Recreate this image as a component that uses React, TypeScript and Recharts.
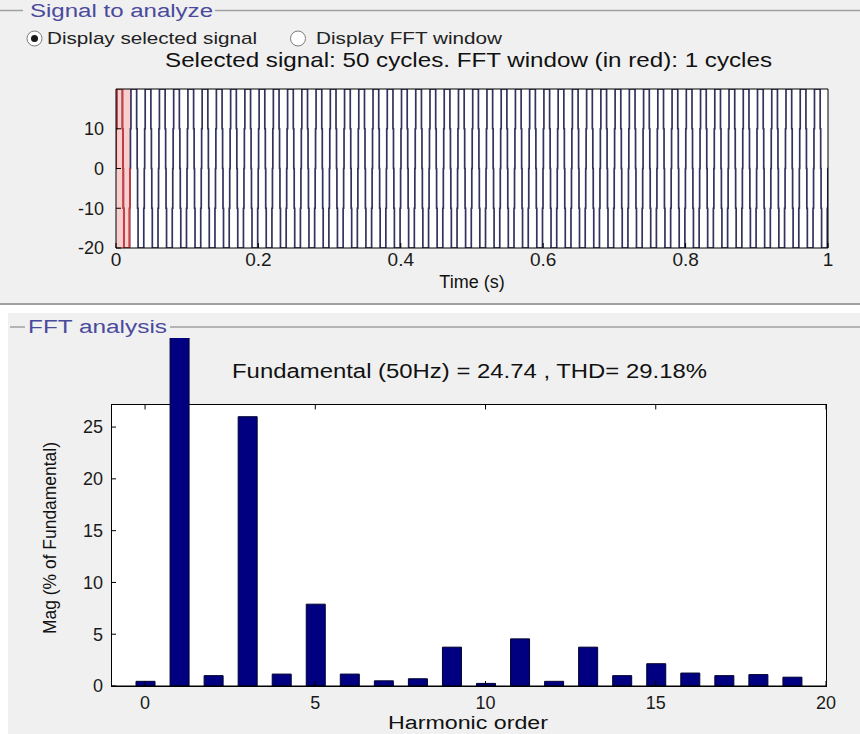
import React from "react";
import {
  LineChart,
  Line,
  XAxis,
  YAxis,
  ReferenceArea,
  ReferenceLine,
  BarChart,
  Bar,
} from "recharts";

const FONT = "'Liberation Sans', Arial, Helvetica, sans-serif";

// ---- Signal to analyze: one cycle of the 5-level staircase (switch angles in deg, levels) ----
const signalCycles = 50;
const signalDuration = 1;
const fftWindowCycles = 1;
const cyclePhaseDeg = [0, 5, 18, 162, 175, 185, 198, 342, 355];
const cycleLevel = [0, 10, 20, 10, 0, -10, -20, -10, 0];
const timeTicks = [0, 0.2, 0.4, 0.6, 0.8, 1];
const signalTicks = [-20, -10, 0, 10];
const signalDomain = [-20, 20];

// ---- FFT analysis ----
const harmonicOrder = [0, 1, 2, 3, 4, 5, 6, 7, 8, 9, 10, 11, 12, 13, 14, 15, 16, 17, 18, 19];
const harmonicMag = [
  0.45, 100, 1.0, 26.0, 1.15, 7.9, 1.15, 0.5, 0.7, 3.75, 0.25, 4.55, 0.45, 3.75, 1.0, 2.15,
  1.25, 1.0, 1.1, 0.85,
];
const harmonicTicks = [0, 5, 10, 15, 20];
const magTicks = [0, 5, 10, 15, 20, 25];
const magAxisTop = 27.2;
const magViewTop = 33.6;

const period = signalDuration / signalCycles;
const signalData: { t: number; v: number }[] = [];
for (let c = 0; c < signalCycles; c++) {
  cyclePhaseDeg.forEach((p, i) => {
    signalData.push({ t: (c + p / 360) * period, v: cycleLevel[i] });
  });
}
signalData.push({ t: signalDuration, v: 0 });
const windowEnd = fftWindowCycles * period;
const windowData = signalData.filter((d) => d.t <= windowEnd + 1e-9);

const harmData = harmonicOrder.map((h, i) => ({ h, mag: harmonicMag[i] }));

const axisStroke = { stroke: "#000", strokeWidth: 1 };

export default function App() {
  return (
    <div
      style={{
        position: "absolute",
        left: 0,
        top: 0,
        width: 860,
        height: 734,
        background: "#f0f0f0",
        overflow: "hidden",
        fontFamily: FONT,
      }}
    >
      {/* panel decorations behind */}
      <div style={{ position: "absolute", left: 0, top: 305, width: 860, height: 8, background: "#fff" }} />
      <div style={{ position: "absolute", left: 0, top: 305, width: 8, height: 429, background: "#fff" }} />
      <div style={{ position: "absolute", left: 116, top: 89, width: 712, height: 159, background: "#fff" }} />
      <div
        style={{
          position: "absolute",
          left: 111,
          top: 404,
          width: 716,
          height: 283,
          background: "#fff",
          border: "1px solid #000",
          boxSizing: "border-box",
        }}
      />

      {/* Top chart: signal */}
      <div style={{ position: "absolute", left: 0, top: 0 }}>
        <LineChart
          width={860}
          height={300}
          data={signalData}
          margin={{ top: 88, right: 31, bottom: 22, left: 56 }}
        >
          <XAxis
            xAxisId="b"
            dataKey="t"
            type="number"
            domain={[0, signalDuration]}
            ticks={timeTicks}
            interval={0}
            height={30}
            tickSize={-5}
            tickMargin={10}
            axisLine={axisStroke}
            tickLine={axisStroke}
            tick={{ fill: "#1a1a1a", fontSize: 19, fontFamily: FONT }}
            allowDataOverflow
          />
          <XAxis
            xAxisId="t"
            orientation="top"
            dataKey="t"
            type="number"
            domain={[0, signalDuration]}
            ticks={timeTicks}
            interval={0}
            height={1}
            tickSize={-5}
            tick={false}
            axisLine={axisStroke}
            tickLine={axisStroke}
            allowDataOverflow
          />
          <YAxis
            yAxisId="l"
            type="number"
            domain={signalDomain}
            ticks={signalTicks}
            interval={0}
            width={60}
            tickSize={-5}
            tickMargin={17}
            axisLine={axisStroke}
            tickLine={axisStroke}
            tick={{ fill: "#1a1a1a", fontSize: 18, fontFamily: FONT }}
            allowDataOverflow
          />
          <YAxis
            yAxisId="r"
            orientation="right"
            type="number"
            domain={signalDomain}
            ticks={signalTicks}
            interval={0}
            width={1}
            tickSize={-6}
            tick={false}
            axisLine={axisStroke}
            tickLine={axisStroke}
            allowDataOverflow
          />
          <ReferenceArea
            xAxisId="b"
            yAxisId="l"
            x1={0}
            x2={windowEnd}
            y1={signalDomain[0]}
            y2={signalDomain[1]}
            fill="#f2a0a0"
            fillOpacity={0.5}
            stroke="none"
          />
          <Line
            xAxisId="b"
            yAxisId="l"
            dataKey="v"
            type="stepAfter"
            stroke="#33335f"
            strokeWidth={1.7}
            dot={false}
            isAnimationActive={false}
          />
          <Line
            xAxisId="t"
            yAxisId="r"
            data={windowData}
            dataKey="v"
            type="stepAfter"
            stroke="#d83a3a"
            strokeWidth={1.6}
            dot={false}
            isAnimationActive={false}
          />
        </LineChart>
      </div>

      {/* Bottom chart: FFT */}
      <div style={{ position: "absolute", left: 0, top: 0 }}>
        <BarChart
          width={860}
          height={734}
          data={harmData}
          margin={{ top: 338, right: 33, bottom: 18, left: 51 }}
          barSize={19}
        >
          <XAxis
            dataKey="h"
            type="number"
            domain={[-1, 20]}
            ticks={harmonicTicks}
            interval={0}
            height={30}
            tickSize={-5}
            tickMargin={15}
            axisLine={axisStroke}
            tickLine={axisStroke}
            tick={{ fill: "#1a1a1a", fontSize: 18, fontFamily: FONT }}
            allowDataOverflow
          />
          <YAxis
            yAxisId="l"
            type="number"
            domain={[0, magViewTop]}
            ticks={magTicks}
            interval={0}
            width={60}
            tickSize={-5}
            tickMargin={13}
            axisLine={false}
            tickLine={axisStroke}
            tick={{ fill: "#1a1a1a", fontSize: 18, fontFamily: FONT }}
            allowDataOverflow
          />
          <YAxis
            yAxisId="r"
            orientation="right"
            type="number"
            domain={[0, magViewTop]}
            ticks={magTicks}
            interval={0}
            width={1}
            tickSize={-5}
            tick={false}
            axisLine={false}
            tickLine={axisStroke}
            allowDataOverflow
          />
          {harmonicTicks.map((v) => (
            <ReferenceLine
              key={v}
              yAxisId="l"
              segment={[
                { x: v, y: magAxisTop },
                { x: v, y: magAxisTop - 0.5 },
              ]}
              stroke="#000"
              strokeWidth={1}
            />
          ))}
          <Bar
            yAxisId="l"
            dataKey="mag"
            fill="#000080"
            stroke="#000030"
            strokeWidth={1}
            isAnimationActive={false}
          />
        </BarChart>
      </div>

      {/* Text & frame overlay */}
      <svg
        width={860}
        height={734}
        style={{ position: "absolute", left: 0, top: 0, pointerEvents: "none" }}
        fontFamily={FONT}
      >
        {/* Signal to analyze group */}
        <line x1={0} y1={10.5} x2={23} y2={10.5} stroke="#a0a0a0" strokeWidth={1.5} />
        <line x1={215} y1={10.5} x2={860} y2={10.5} stroke="#a0a0a0" strokeWidth={1.5} />
        <text x={30} y={17} fontSize={18} fill="#4a4a9c" textLength={183} lengthAdjust="spacingAndGlyphs">
          Signal to analyze
        </text>
        <circle cx={34.5} cy={38.5} r={7.5} fill="#fff" stroke="#7a7a7a" strokeWidth={1} />
        <circle cx={34.5} cy={38.5} r={3.5} fill="#1a1a1a" />
        <text x={47} y={44} fontSize={17} fill="#222" textLength={210} lengthAdjust="spacingAndGlyphs">
          Display selected signal
        </text>
        <circle cx={298} cy={38.5} r={7.5} fill="#fff" stroke="#7a7a7a" strokeWidth={1} />
        <text x={316} y={44} fontSize={17} fill="#222" textLength={186} lengthAdjust="spacingAndGlyphs">
          Display FFT window
        </text>
        <text x={165} y={67} fontSize={21} fill="#111" textLength={607} lengthAdjust="spacingAndGlyphs">
          Selected signal: 50 cycles. FFT window (in red): 1 cycles
        </text>
        <text x={472} y={288} fontSize={18} fill="#111" textAnchor="middle">
          Time (s)
        </text>

        {/* separator */}
        <rect x={0} y={303} width={860} height={2} fill="#a0a0a0" />

        {/* FFT analysis group */}
        <line x1={10} y1={327} x2={25} y2={327} stroke="#a0a0a0" strokeWidth={1.5} />
        <line x1={170} y1={327} x2={860} y2={327} stroke="#a0a0a0" strokeWidth={1.5} />
        <text x={28} y={333} fontSize={18} fill="#4a4a9c" textLength={139} lengthAdjust="spacingAndGlyphs">
          FFT analysis
        </text>
        <text x={232} y={378} fontSize={20} fill="#111" textLength={475} lengthAdjust="spacingAndGlyphs">
          Fundamental (50Hz) = 24.74 , THD= 29.18%
        </text>
        <text
          transform="translate(56,538) rotate(-90)"
          fontSize={18}
          fill="#111"
          textAnchor="middle"
          textLength={192}
          lengthAdjust="spacingAndGlyphs"
        >
          Mag (% of Fundamental)
        </text>
        <text x={388} y={729} fontSize={18} fill="#111" textLength={160} lengthAdjust="spacingAndGlyphs">
          Harmonic order
        </text>
      </svg>
    </div>
  );
}
